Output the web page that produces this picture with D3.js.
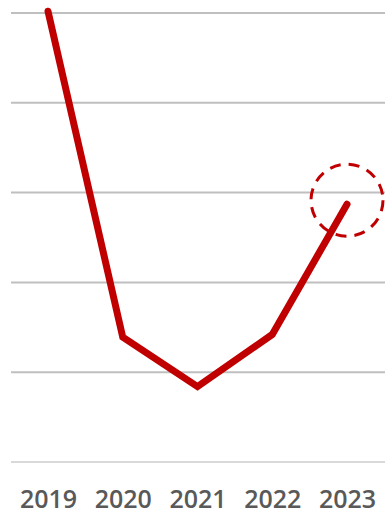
<!DOCTYPE html>
<html><head><meta charset="utf-8">
<script src="https://cdn.jsdelivr.net/npm/d3@7"></script>
<style>html,body{margin:0;padding:0;background:#fff;overflow:hidden}</style>
</head><body>
<script>
const years = ["2019","2020","2021","2022","2023"];
const values = [5.02, 1.39, 0.84, 1.42, 2.87];
const yTicks = [0,1,2,3,4,5];
const highlightYear = "2023";

const W = 385, H = 515;
const svg = d3.select("body").append("svg").attr("width", W).attr("height", H);

const x = d3.scalePoint().domain(years).range([48, 347]);
const y = d3.scaleLinear().domain([0,5]).range([462, 13]);

// gridlines
svg.append("g").selectAll("line").data(yTicks).join("line")
  .attr("x1", 11).attr("x2", 385)
  .attr("y1", d => y(d)).attr("y2", d => y(d))
  .attr("stroke", d => d === 0 ? "#d9d9d9" : "#bfbfbf")
  .attr("stroke-width", 2);

// x axis labels
const xAxis = d3.axisBottom(x).tickSize(0).tickPadding(0);
const gx = svg.append("g").attr("transform", "translate(0,490)").call(xAxis);
gx.select(".domain").remove();
gx.selectAll("text")
  .attr("dy", "0.71em")
  .attr("fill", "#595959")
  .style("font-family", "'Open Sans', sans-serif")
  .style("font-weight", 600)
  .style("font-size", "25px");

// line
const line = d3.line().x((d,i) => x(years[i])).y(d => y(d)).curve(d3.curveLinear);
svg.append("path").datum(values)
  .attr("d", line)
  .attr("fill", "none")
  .attr("stroke", "#c00000")
  .attr("stroke-width", 7)
  .attr("stroke-linecap", "round")
  .attr("stroke-linejoin", "miter");

// highlight dashed circle
const hi = years.indexOf(highlightYear);
svg.append("circle")
  .attr("cx", x(highlightYear))
  .attr("cy", y(values[hi]) - 4)
  .attr("r", 36)
  .attr("fill", "none")
  .attr("stroke", "#c00000")
  .attr("stroke-width", 3)
  .attr("stroke-dasharray", "11,8");
</script>
</body></html>
